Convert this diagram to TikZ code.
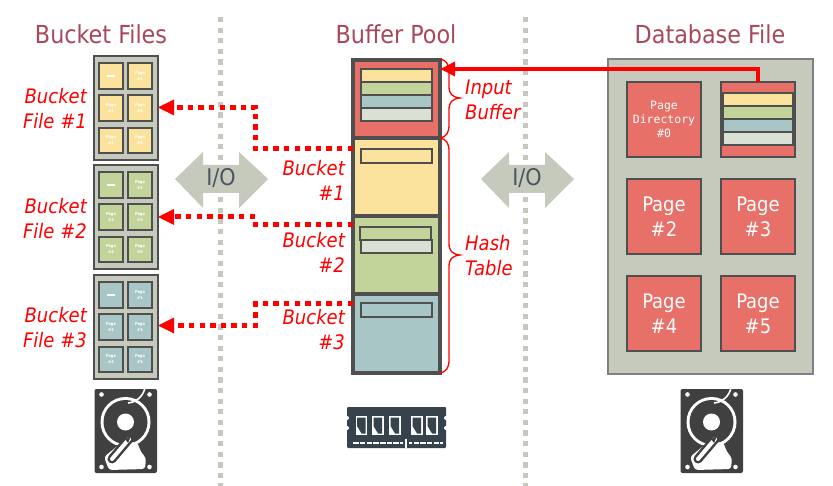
\documentclass[tikz,border=0pt]{standalone}
\usepackage{fontspec}
\setmainfont{DejaVu Sans Condensed}
\newfontfamily\monof{DejaVu Sans Mono}
\usetikzlibrary{arrows.meta,calc}
\definecolor{cRed}{HTML}{E77068}
\definecolor{cYel}{HTML}{FBE29D}
\definecolor{cGrn}{HTML}{C3D49B}
\definecolor{cBlu}{HTML}{A9C6C6}
\definecolor{cGry}{HTML}{C5CABD}
\definecolor{cLgt}{HTML}{D9E0D4}
\definecolor{cBrd}{HTML}{4F4F4F}
\definecolor{cTtl}{HTML}{A9485A}
\definecolor{cIco}{HTML}{404040}
\definecolor{cRam}{HTML}{36434D}
\definecolor{cIO}{HTML}{4A5560}
\tikzset{
  box/.style={draw=cBrd,inner sep=0pt,outer sep=0pt},
  title/.style={text=cTtl,font=\fontsize{24.8}{28}\selectfont},
  redlab/.style={text=red,font=\fontsize{20}{25}\selectfont\itshape,inner sep=0pt},
  dotline/.style={draw=red,line width=5pt,dash pattern=on 5.4pt off 5.2pt},
  sepline/.style={draw=cGry,line width=5pt,dash pattern=on 5.3pt off 5.3pt},
  brace/.style={draw=red,line width=1.3pt},
  iolab/.style={text=cIO,font=\fontsize{23}{26}\selectfont},
  pagelab/.style={text=white,font=\fontsize{20}{25}\selectfont,align=center},
  tinylab/.style={text=white,font=\fontsize{4}{6}\selectfont\bfseries,align=center,inner sep=0pt},
}
% \rbox{name}{x1}{y1}{x2}{y2}{options}
\newcommand{\rbox}[6]{%
  \pgfmathsetmacro{\bw}{#4-#2}\pgfmathsetmacro{\bh}{#5-#3}%
  \pgfmathsetmacro{\bx}{(#2+#4)/2}\pgfmathsetmacro{\by}{(#3+#5)/2}%
  \node[box,minimum width=\bw pt,minimum height=\bh pt,#6] (#1) at (\bx,\by) {};}
% one page of a bucket file
\newcommand{\smallpage}[6]{%
  \rbox{#1}{#2}{#3}{#4}{#5}{fill=#6,line width=2pt}%
  \node[tinylab] at (#1) {Page\\\#\pgfkeysvalueof{/tmp/n}};}
\pgfkeyssetvalue{/tmp/n}{1}
\newcommand{\bucketfile}[4]{% name, top, bottom, colour; rows set relative
  \rbox{#1}{94}{#2}{158}{#3}{fill=cGry,line width=2pt}%
  \pgfmathsetmacro{\ra}{#2+7}\pgfmathsetmacro{\rb}{#2+39}\pgfmathsetmacro{\rc}{#2+72}%
  \pgfmathsetmacro{\rae}{#2+33}\pgfmathsetmacro{\rbe}{#2+65}\pgfmathsetmacro{\rce}{#2+97}%
  \rbox{#1a}{99}{\ra}{123}{\rae}{fill=#4,line width=2pt}%
  \fill[white] ($(#1a)+(-4,-0.6)$) rectangle ($(#1a)+(4,0.6)$);
  \pgfkeyssetvalue{/tmp/n}{1}\smallpage{#1b}{128}{\ra}{152}{\rae}{#4}%
  \pgfkeyssetvalue{/tmp/n}{2}\smallpage{#1c}{99}{\rb}{123}{\rbe}{#4}%
  \pgfkeyssetvalue{/tmp/n}{3}\smallpage{#1d}{128}{\rb}{152}{\rbe}{#4}%
  \pgfkeyssetvalue{/tmp/n}{4}\smallpage{#1e}{99}{\rc}{123}{\rce}{#4}%
  \pgfkeyssetvalue{/tmp/n}{5}\smallpage{#1f}{128}{\rc}{152}{\rce}{#4}}
\newcommand{\hddicon}[2]{%
  \begin{scope}[shift={(#1,#2)}]
    \fill[cIco,rounded corners=2pt] (-0.5,0) rectangle (62,84);
    \fill[white] (30.5,33) circle (25);
    \fill[cIco] (30.5,33) circle (22);
    \fill[white] (30.5,33) circle (8.5);
    \draw[white,line width=1.6pt] (33,14) arc[start angle=85,end angle=15,radius=19];
    \fill[cIco] (4,56) rectangle (24,70);
    \fill[white,rounded corners=3pt] (9,68) -- (26,54) -- (42,53) -- (46,63) -- (51,69) -- (50,80) -- (14,81) -- cycle;
    \draw[cIco,line width=9pt,line cap=round] (34,50) -- (17,70);
    \draw[white,line width=4pt,line cap=round] (34,50) -- (17,70);
    \fill[cIco] (30,50) -- (36,47) -- (33,54) -- cycle;
    \foreach \p/\q in {6.5/5.5,54.5/5.5,6.5/78,54.5/78}{\fill[white] (\p,\q) circle (2.3);}
  \end{scope}}
\begin{document}
\begin{tikzpicture}[x=1pt,y=-1pt]
\useasboundingbox (0,0) rectangle (833,486);
\fill[white] (0,0) rectangle (833,486);
% separators
\coordinate (sa1) at (220,17); \coordinate (sa2) at (220,486);
\coordinate (sb1) at (525,17); \coordinate (sb2) at (525,486);
\draw[sepline] (sa1) -- (sa2);
\draw[sepline] (sb1) -- (sb2);
% titles
\node[title] (t1) at (101,34) {Bucket Files};
\node[title] (t2) at (396,34) {Buffer Pool};
\node[title] (t3) at (710,34) {Database File};
% I/O arrows
\fill[cGry] (175,179) -- (203,152) -- (203,165) -- (239,165) -- (239,152) -- (268,179) -- (239,208) -- (239,193) -- (203,193) -- (203,208) -- cycle;
\node[iolab] (io1) at (221,178) {I/O};
\fill[cGry] (481,179) -- (509,152) -- (509,165) -- (545,165) -- (545,152) -- (574,179) -- (545,208) -- (545,193) -- (509,193) -- (509,208) -- cycle;
\node[iolab] (io2) at (527,178) {I/O};
% bucket files
\bucketfile{bf1}{56}{160}{cYel}
\bucketfile{bf2}{165}{269}{cGrn}
\bucketfile{bf3}{275}{379}{cBlu}
\node[redlab,align=right,anchor=east] (lf1) at (87,108.5) {Bucket\\File \#1};
\node[redlab,align=right,anchor=east] (lf2) at (87,218.5) {Bucket\\File \#2};
\node[redlab,align=right,anchor=east] (lf3) at (87,328) {Bucket\\File \#3};
% buffer pool
\rbox{pin}{353}{60}{440}{138}{fill=cRed,line width=3.6pt}
\rbox{py}{353}{138}{440}{216}{fill=cYel,line width=3.6pt}
\rbox{pg}{353}{216}{440}{294}{fill=cGrn,line width=3.6pt}
\rbox{pb}{353}{294}{440}{373}{fill=cBlu,line width=3.6pt}
\rbox{i1}{361}{69}{432}{82}{fill=cYel,line width=1.5pt}
\rbox{i2}{361}{82}{432}{95}{fill=cGrn,line width=1.5pt}
\rbox{i3}{361}{95}{432}{108}{fill=cBlu,line width=1.5pt}
\rbox{i4}{361}{108}{432}{121}{fill=cLgt,line width=1.5pt}
\rbox{y1}{361}{149}{432}{163}{fill=cYel,line width=1.5pt}
\rbox{g1}{360}{227}{431}{240}{fill=cGrn,line width=1.5pt}
\rbox{g2}{361}{240}{432}{253}{fill=cLgt,line width=1.5pt}
\rbox{b1}{361}{303}{432}{317}{fill=cBlu,line width=1.5pt}
\node[redlab,align=right,anchor=east] (lb1) at (345,180) {Bucket\\\#1};
\node[redlab,align=right,anchor=east] (lb2) at (345,252.5) {Bucket\\\#2};
\node[redlab,align=right,anchor=east] (lb3) at (345,330) {Bucket\\\#3};
\node[redlab,align=left,anchor=west] (lin) at (465,100) {Input\\Buffer};
\node[redlab,align=left,anchor=west] (lht) at (465,256) {Hash\\Table};
% braces
\draw[brace] (440,59) .. controls (446,60) and (449,64) .. (449,72) -- (449,86)
  .. controls (449,94) and (452,97) .. (460,98) .. controls (452,99) and (449,102) .. (449,110) -- (449,125)
  .. controls (449,133) and (446,137) .. (440,138);
\draw[brace] (440,138) .. controls (446,139) and (449,143) .. (449,151) -- (449,243)
  .. controls (449,251) and (452,254) .. (460,255) .. controls (452,256) and (449,259) .. (449,267) -- (449,360)
  .. controls (449,368) and (446,372) .. (440,373);
% database file
\rbox{db}{608}{59}{813}{374}{fill=cGry,draw=gray,line width=1.2pt}
\rbox{d0}{627}{82}{701}{157}{fill=cRed,line width=2pt}
\node[text=white,font=\monof\fontsize{11.5}{14}\selectfont,align=center,inner sep=0pt] at (d0) {Page\\Directory\\\#0};
\rbox{d1}{721}{82}{795}{157}{fill=cRed,line width=2pt}
\rbox{c1}{723}{93}{793}{106}{fill=cYel,line width=1.5pt}
\rbox{c2}{723}{106}{793}{119}{fill=cGrn,line width=1.5pt}
\rbox{c3}{723}{119}{793}{132}{fill=cBlu,line width=1.5pt}
\rbox{c4}{723}{132}{793}{145}{fill=cLgt,line width=1.5pt}
\rbox{d2}{627}{179}{701}{254}{fill=cRed,line width=2pt}
\node[pagelab] at (d2) {Page\\\#2};
\rbox{d3}{721}{179}{795}{254}{fill=cRed,line width=2pt}
\node[pagelab] at (d3) {Page\\\#3};
\rbox{d4}{627}{276}{701}{351}{fill=cRed,line width=2pt}
\node[pagelab] at (d4) {Page\\\#4};
\rbox{d5}{721}{276}{795}{351}{fill=cRed,line width=2pt}
\node[pagelab] at (d5) {Page\\\#5};
% connectors
\coordinate (upA) at (758,82);
\draw[draw=red,line width=4.6pt] (upA) -- (758,69) -- (452,69);
\fill[red] (440.5,69) -- (455,61.5) -- (455,76.5) -- cycle;
\draw[dotline] (py.west |- y1.north) -- (255.5,149) -- (255.5,107.5) -- (170,107.5);
\fill[red] (bf1.east |- 0,107.5) -- (174,99.5) -- (174,115.5) -- cycle;
\draw[dotline] (pg.west |- 0,225) -- (255.5,225) -- (255.5,217) -- (170,217);
\fill[red] (bf2.east |- 0,217) -- (174,209) -- (174,225) -- cycle;
\draw[dotline] (pb.west |- 0,304) -- (255.5,304) -- (255.5,325.5) -- (170,325.5);
\fill[red] (bf3.east |- 0,325.5) -- (174,317.5) -- (174,333.5) -- cycle;
% icons
\hddicon{95}{389}
\hddicon{681}{389}
\begin{scope}[shift={(347,407)}]
  \fill[cRam,rounded corners=1pt] (0,0) rectangle (99,41);
  \foreach \q in {11,21}{\fill[white] (0,\q) circle (2); \fill[white] (99,\q) circle (2);}
  \foreach \p in {8.5,25,42,64,79}{
    \fill[white] (\p,9) rectangle (\p+11.5,28);
    \fill[cRam] (\p+1.5,10.5) -- (\p+10,10.5) -- (\p+10,26.5) -- (\p+6,26.5) -- (\p+1.5,19) -- cycle;
  }
  \draw[white,line width=1.5pt] (5,36) -- (56,36);
  \draw[white,line width=1.5pt] (62,36) -- (96,36);
  \draw[cRam,line width=1.8pt,dash pattern=on 1.2pt off 5.5pt] (5,36) -- (96,36);
  \draw[white,line width=1.2pt] (59,32) -- (59,41);
\end{scope}
\end{tikzpicture}
\end{document}
